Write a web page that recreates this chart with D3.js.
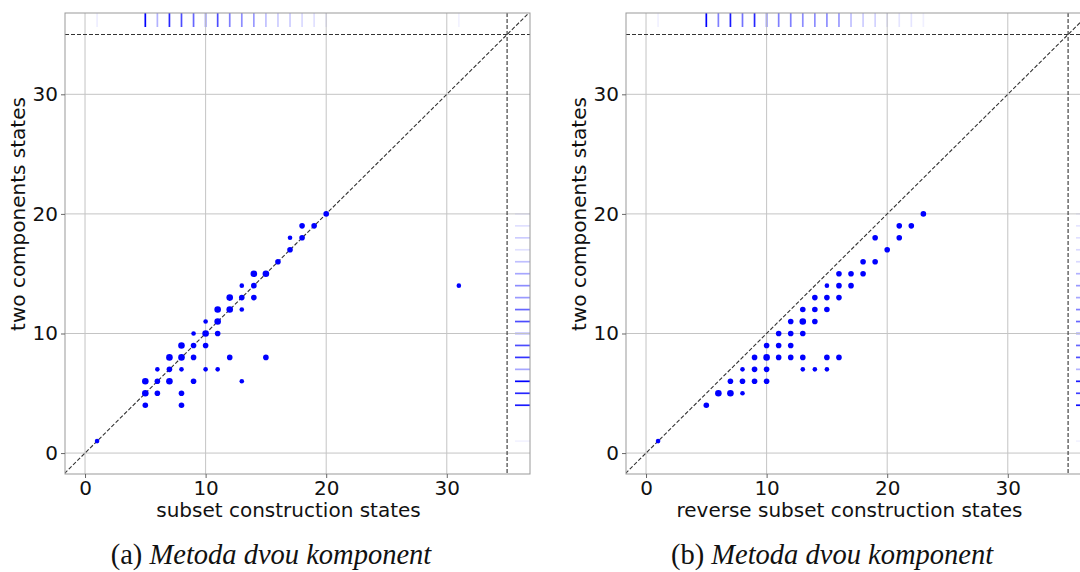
<!DOCTYPE html>
<html lang="en">
<head>
<meta charset="utf-8">
<title>two components vs subset construction</title>
<script src="https://cdn.jsdelivr.net/npm/d3@7"></script>
<style>
  body { margin: 0; background: #fff; }
  svg { display: block; }
  .tick text { font-family: "DejaVu Sans", sans-serif; font-size: 20px; fill: #111; }
  .lbl { font-family: "DejaVu Sans", sans-serif; font-size: 20px; fill: #111; }
  .cap { font-family: "Liberation Serif", serif; font-size: 28.5px; fill: #111; }
</style>
</head>
<body>
<svg id="chart" width="1080" height="572"></svg>
<script>
// axis ticks (same on both panels)
const tickVals = [0, 10, 20, 30];
const limit = 35;

// panel (a): [subset construction states, two components states, dot size class]
const pointsA = [
  [1,1,1],
  [5,4,2],[5,5,3],[5,6,3],
  [6,5,2],[6,6,2],[6,7,1],
  [7,6,3],[7,7,2],[7,8,3],
  [8,4,2],[8,5,2],[8,7,1],[8,8,3],[8,9,3],
  [9,6,2],[9,8,2],[9,9,2],[9,10,1],
  [10,7,1],[10,9,2],[10,10,3],[10,11,1],
  [11,7,1],[11,10,2],[11,11,3],[11,12,3],
  [12,8,2],[12,12,3],[12,13,3],
  [13,6,1],[13,12,1],[13,13,2],[13,14,1],
  [14,13,2],[14,14,2],[14,15,3],
  [15,8,2],[15,15,3],
  [16,16,2],
  [17,17,2],[17,18,1],
  [18,18,2],[18,19,2],
  [19,19,2],
  [20,20,2],
  [31,14,1]
];

// panel (b): [reverse subset construction states, two components states, dot size class]
const pointsB = [
  [1,1,1],
  [5,4,2],
  [6,5,3],[7,5,3],[8,5,1],
  [7,6,2],[8,6,2],[9,6,2],[10,6,2],
  [8,7,1],[9,7,2],[10,7,2],[13,7,1],[14,7,1],[15,7,1],
  [9,8,2],[10,8,3],[11,8,2],[12,8,2],[13,8,2],[15,8,2],[16,8,2],
  [10,9,2],[11,9,2],[12,9,2],
  [11,10,2],[12,10,2],[13,10,2],
  [12,11,2],[13,11,3],[14,11,2],
  [13,12,2],[14,12,2],[15,12,2],
  [14,13,2],[15,13,2],[16,13,2],
  [15,14,1],[16,14,2],[17,14,2],
  [16,15,2],[17,15,2],[18,15,2],
  [18,16,2],[19,16,2],
  [20,17,2],
  [19,18,2],[21,18,2],
  [21,19,2],[22,19,2],
  [23,20,2]
];

// marginal rugs: [value, intensity]
const rugTopA = [[1,.07],[5,1],[6,.3],[7,.85],[8,.7],[9,.6],[10,.6],[11,.7],[12,.5],[13,.45],
  [14,.4],[15,.25],[16,.2],[17,.2],[18,.15],[19,.12],[20,.1],[31,.05]];
const rugRightA = [[1,.05],[4,.9],[5,.85],[6,1],[7,.35],[8,.8],[9,.7],[10,.5],[11,.7],[12,.6],
  [13,.4],[14,.45],[15,.35],[16,.25],[17,.12],[18,.2],[19,.12],[20,.1]];
const rugTopB = [[1,.06],[5,1],[6,.5],[7,.9],[8,.55],[9,.85],[10,.7],[11,.5],[12,.5],[13,.45],
  [14,.45],[15,.45],[16,.4],[17,.25],[18,.2],[19,.18],[20,.12],[21,.1],[22,.1],[23,.06]];
const rugRightB = [[1,.05],[4,.95],[5,.75],[6,.9],[7,.3],[8,.7],[9,.6],[10,.6],[11,.6],[12,.5],
  [13,.35],[14,.4],[15,.3],[16,.15],[17,.15],[18,.12],[19,.1],[20,.08]];

const panels = [
  { left: 65,  xLabel: 'subset construction states', caption: ['(a) ', 'Metoda dvou komponent'],
    points: pointsA, rugTop: rugTopA, rugRight: rugRightA },
  { left: 626, xLabel: 'reverse subset construction states', caption: ['(b) ', 'Metoda dvou komponent'],
    points: pointsB, rugTop: rugTopB, rugRight: rugRightB }
];

const plotTop = 13, w = 465, h = 461;
const svg = d3.select('#chart');
svg.append('rect').attr('width', 1080).attr('height', 572).attr('fill', '#fff');

const sizeR = d3.scaleOrdinal().domain([1, 2, 3]).range([2.3, 2.8, 3.3]);

panels.forEach((p, i) => {
  const x = d3.scaleLinear().domain([-1.66, 36.9]).range([0, w]);
  const y = d3.scaleLinear().domain([-1.75, 36.8]).range([h, 0]);

  svg.append('clipPath').attr('id', 'clip' + i)
    .append('rect').attr('width', w).attr('height', h);

  const g = svg.append('g').attr('transform', `translate(${p.left},${plotTop})`);
  const plot = g.append('g').attr('clip-path', `url(#clip${i})`);

  // rugs
  plot.selectAll('.rugx').data(p.rugTop).enter().append('line')
    .attr('x1', d => x(d[0])).attr('x2', d => x(d[0]))
    .attr('y1', 0).attr('y2', 14)
    .attr('stroke', '#0000ff').attr('stroke-width', 1.7)
    .attr('stroke-opacity', d => d[1]);
  plot.selectAll('.rugy').data(p.rugRight).enter().append('line')
    .attr('y1', d => y(d[0])).attr('y2', d => y(d[0]))
    .attr('x1', w - 15).attr('x2', w)
    .attr('stroke', '#0000ff').attr('stroke-width', 1.7)
    .attr('stroke-opacity', d => d[1]);

  // grid
  plot.selectAll('.gx').data(tickVals).enter().append('line')
    .attr('x1', d => x(d)).attr('x2', d => x(d)).attr('y1', 0).attr('y2', h)
    .attr('stroke', '#c4c4c4').attr('stroke-width', 1);
  plot.selectAll('.gy').data(tickVals).enter().append('line')
    .attr('y1', d => y(d)).attr('y2', d => y(d)).attr('x1', 0).attr('x2', w)
    .attr('stroke', '#c4c4c4').attr('stroke-width', 1);

  // dashed guides
  const dash = sel => sel.attr('stroke', '#333').attr('stroke-width', 1.1)
    .attr('stroke-dasharray', '4,2').attr('fill', 'none');
  plot.append('line').attr('x1', x(-1.7)).attr('y1', y(-1.7)).attr('x2', x(37)).attr('y2', y(37)).call(dash);
  plot.append('line').attr('x1', 0).attr('x2', w).attr('y1', y(limit)).attr('y2', y(limit)).call(dash);
  plot.append('line').attr('y1', 0).attr('y2', h).attr('x1', x(limit)).attr('x2', x(limit)).call(dash);

  // points
  plot.selectAll('.pt').data(p.points).enter().append('circle')
    .attr('cx', d => x(d[0])).attr('cy', d => y(d[1]))
    .attr('r', d => sizeR(d[2]))
    .attr('fill', '#0000ff');

  // frame
  g.append('rect').attr('width', w).attr('height', h)
    .attr('fill', 'none').attr('stroke', '#999').attr('stroke-width', 1);

  // axes
  const ax = g.append('g').attr('transform', `translate(0,${h})`)
    .call(d3.axisBottom(x).tickValues(tickVals).tickSize(4).tickPadding(3));
  const ay = g.append('g')
    .call(d3.axisLeft(y).tickValues(tickVals).tickSize(4).tickPadding(3));
  [ax, ay].forEach(a => {
    a.select('.domain').remove();
    a.selectAll('.tick line').attr('stroke', '#666');
  });

  // labels
  g.append('text').attr('class', 'lbl')
    .attr('x', w / 2 - 9).attr('y', 517 - plotTop)
    .attr('text-anchor', 'middle').text(p.xLabel);
  g.append('text').attr('class', 'lbl')
    .attr('transform', `translate(${-40},${201}) rotate(-90)`)
    .attr('text-anchor', 'middle').text('two components states');

  // caption
  const cap = svg.append('text').attr('class', 'cap')
    .attr('x', p.left + 206).attr('y', 564).attr('text-anchor', 'middle');
  cap.append('tspan').text(p.caption[0]);
  cap.append('tspan').attr('font-style', 'italic').text(p.caption[1]);
});
</script>
</body>
</html>
